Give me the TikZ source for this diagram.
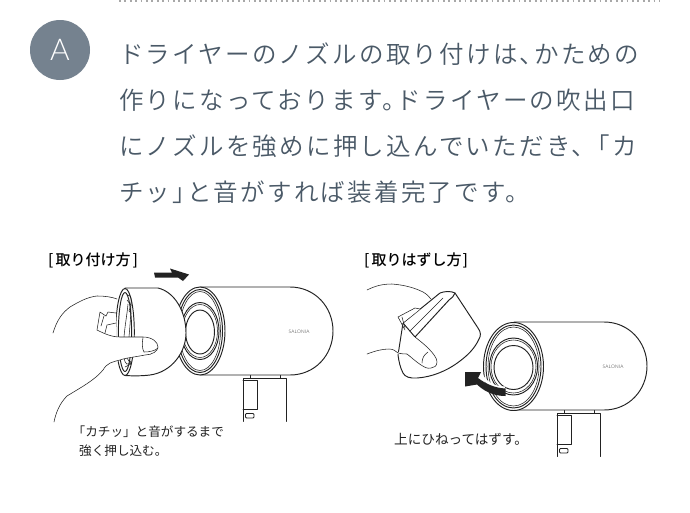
\documentclass[tikz,border=0pt]{standalone}
\usepackage{fontspec}
\setmainfont{Lato Light}
\newfontfamily\jpbody[LetterSpace=9.2]{Noto Sans CJK JP DemiLight}
\newfontfamily\jpsmall{Noto Sans CJK JP}
\newfontfamily\jpmed{Noto Sans CJK JP Medium}
\definecolor{slateink}{HTML}{4A5967}
\definecolor{badge}{HTML}{75828F}
\definecolor{dotgrey}{HTML}{A8A8A8}
\definecolor{lineink}{HTML}{222222}
\newcommand{\tightp}{\kern-10pt}
\tikzset{
  bodyline/.style={font=\fontsize{24.5}{24.5}\selectfont\jpbody,text=slateink,anchor=west,inner sep=0pt},
  caption/.style={font=\fontsize{12.6}{12.6}\selectfont\jpsmall,text=lineink,anchor=west,inner sep=0pt},
  headlabel/.style={font=\fontsize{15}{15}\selectfont\jpmed,text=black,anchor=west,inner sep=0pt},
  art/.style={draw=lineink,line width=0.95pt,line join=round,line cap=round},
  thinart/.style={draw=lineink,line width=0.55pt,line join=round,line cap=round},
  solidarrow/.style={fill=lineink,draw=none},
}
% #1 x shift, #2 y shift, #3 front radius, #4 ring centre x, #5 ring centre y
\newcommand{\drawdryer}[5]{%
\begin{scope}[shift={(#1,#2)}]
  \draw[art] (243,421.5) -- (243,378) -- (286,378) -- (286,421.5);
  \draw[art,fill=white] (250,378) -- (250,373.5) -- (280,373.5) -- (280,378);
  \draw[thinart] (243,380) -- (257,380) -- (257,409.5) -- (243,409.5);
  \draw[art,rounded corners=1pt] (245.5,413.5) rectangle (254,418);
  \draw[art,fill=white] (200,287) -- (290,287) .. controls (315,287) and (333,307) .. (333,331)
    .. controls (333,355) and (315,375) .. (290,375) -- (200,375) -- cycle;
  \node[font=\fontsize{4.8}{4.8}\selectfont\addfontfeature{LetterSpace=4},text=lineink,inner sep=0pt] (logo#1) at (299,332) {SALONIA};
\end{scope}
\draw[art,fill=white] (#4,#5) ellipse [x radius=#3,y radius=44];
\draw[art] (#4,#5) ellipse [x radius=#3-2.5,y radius=41.5];
\draw[thinart] (#4,#5) ellipse [x radius=#3-4.5,y radius=39.5];
\draw[art] (#4,#5) ellipse [x radius=#3-6,y radius=28.5];
\draw[thinart] (#4,#5) ellipse [x radius=#3-7.5,y radius=26.5];
\draw[art] (#4,#5+1) ellipse [x radius=#3-10.5,y radius=22];
}
\begin{document}
\begin{tikzpicture}[x=1pt,y=-1pt]
\useasboundingbox (0,0) rectangle (690,512);
\fill[white] (0,0) rectangle (690,512);
% dotted rule
\coordinate (ruleA) at (119,1.2);
\coordinate (ruleB) at (660,1.2);
\draw[dotgrey,line width=1.8pt,dash pattern=on 1.8pt off 3.6pt] (ruleA) -- (ruleB);
% badge
\node[circle,fill=badge,minimum size=60pt,inner sep=0pt,text=white,font=\fontsize{30}{30}\selectfont] (badgeA) at (60,50) {A};
% body text
\node[bodyline] (l1) at (119,54) {ドライヤーのノズルの取り付けは、\tightp かための};
\node[bodyline] (l2) at (119,100) {作りになっております。\tightp ドライヤーの吹出口};
\node[bodyline] (l3) at (119,146) {にノズルを強めに押し込んでいただき、\tightp「カ};
\node[bodyline] (l4) at (119,192) {チッ」\tightp と音がすれば装着完了です。};
% labels
\node[headlabel] (h1) at (48,260) {[\kern2pt 取り付け方\kern2pt ]};
\node[headlabel] (h2) at (364,260.5) {[\kern2pt 取りはずし方\kern1pt ]};
\node[caption] (c1) at (72.5,431.5) {「カチッ」と音がするまで};
\node[caption] (c2) at (79,451) {強く押し込む。};
\node[caption,font=\fontsize{13.6}{13.6}\selectfont\jpsmall] (c3) at (394,439.5) {上にひねってはずす。};
% ---- left dryer
\drawdryer{0}{0}{25}{200}{331}
% nozzle
\draw[art,fill=white] (125,288) -- (158,288) .. controls (175,292) and (186,312) .. (186,333)
  .. controls (186,352) and (172,372) .. (150,375) .. controls (142,376) and (133,376) .. (125,375.5) -- cycle;
\draw[art,fill=white] (125,332) ellipse [x radius=9.3,y radius=43.5];
\draw[art] (125,332) ellipse [x radius=6.6,y radius=39.5];
\draw[thinart] (131,303) .. controls (132,297) and (130,295) .. (127,295);
\draw[thinart] (128,304) .. controls (127,315) and (125,325) .. (124,337);
\draw[thinart] (131,303) .. controls (131,315) and (130,325) .. (129,337);
\draw[thinart] (127,300) -- (131,305) -- (129,311) -- (131,313);
\draw[thinart] (124,358) .. controls (125,364) and (128,367) .. (131,361);
\draw[thinart] (127,358) -- (131,364) -- (125,367);
% left hand
\fill[white] (97,296) -- (116,299) -- (116,365) -- (60,400) -- (53,333) -- cycle;
\draw[thinart] (97,330) -- (100,312) -- (106,316) -- (108,312) -- (116,313);
\draw[thinart] (116,323) -- (107,325) -- (105,333);
\draw[thinart] (104,316) -- (101,326);
\draw[thinart] (53,333) .. controls (57,320) and (62,313) .. (70,307)
  .. controls (80,301) and (88,297) .. (97,296) .. controls (105,296) and (112,297) .. (117,299);
\fill[white] (97,331) .. controls (105,334) and (112,337) .. (120,337) -- (143,337)
  .. controls (152,337) and (158,342) .. (158,347) .. controls (158,351) and (152,355) .. (145,355)
  .. controls (135,357) and (125,358) .. (120,360) -- (103,370) -- cycle;
\draw[thinart] (97,330) .. controls (105,334) and (112,337) .. (120,337) -- (143,337)
  .. controls (152,337) and (158,342) .. (158,347) .. controls (158,351) and (152,355) .. (145,355)
  .. controls (135,357) and (125,358) .. (120,360) .. controls (112,362) and (107,363) .. (103,370)
  .. controls (95,380) and (80,388) .. (67,396) .. controls (60,403) and (56,412) .. (54,422);
\draw[thinart] (143,337.5) .. controls (142,343) and (142,349) .. (144,352)
  .. controls (149,352) and (155,351) .. (158,348);
% left arrow
\fill[solidarrow] (154,272.5) -- (172,272.5) -- (170,268.5) -- (189,274.5) -- (183,281) -- (178,277.5) -- (155,277.5) -- cycle;
% ---- right dryer
\drawdryer{314}{35}{30}{513.5}{366.5}
% right nozzle
\draw[art,fill=white] (455,293) -- (478,328) .. controls (481,332) and (481,336) .. (479,339)
  .. controls (475,348) and (468,355) .. (460,361) .. controls (447,371) and (432,377) .. (417,378)
  .. controls (410,378.5) and (405,377) .. (403,373) .. controls (400,367) and (399,362) .. (398,355)
  -- (403,323) -- (440,293) .. controls (445,291) and (451,291) .. (455,293) -- cycle;
\draw[art] (403,323) -- (415,337) -- (449,300) .. controls (452,298) and (454,296) .. (455,293);
\draw[thinart] (410,331) -- (443,298);
% right hand
\fill[white] (400,325) -- (398,317) -- (415,308) -- (420,309) -- cycle;
\draw[thinart] (405,330) -- (398,317) -- (415,308) -- (420,309);
\draw[thinart] (402,317) -- (405,328);
\draw[thinart] (367,290) .. controls (375,286) and (382,284) .. (392,284)
  .. controls (405,285) and (415,288) .. (423,292) .. controls (427,294) and (429,297) .. (431,299);
\fill[white] (367,354) -- (398,353) -- (415,337) -- (428,348) -- (437,362) -- (431,368) -- (421,365) -- (407,354) -- cycle;
\fill[white] (398,353) -- (415,337) -- (425,350) -- (410,358) -- cycle;
\draw[thinart] (367,354) .. controls (375,351) and (382,349) .. (389,349)
  .. controls (393,349) and (396,351) .. (398,353) .. controls (402,354) and (405,354) .. (407,354)
  .. controls (411,357) and (415,361) .. (421,365) .. controls (424,367) and (427,369) .. (431,368)
  .. controls (434,368) and (437,366) .. (437,362) .. controls (437,358) and (433,353) .. (428,348)
  .. controls (424,344) and (420,341) .. (415,337);
\draw[thinart] (428,352) .. controls (424,355) and (422,358) .. (422,363);
% right arrow
\draw[white,line width=3pt] (482,376) .. controls (487,384) and (495,388) .. (505,388);
\fill[solidarrow] (465,372) -- (481,372) -- (478,378) .. controls (486,384) and (495,388) .. (505.5,388.5)
  -- (505.5,396) .. controls (493,396) and (484,391) .. (477,384.5) -- (465,386.5) -- cycle;
\end{tikzpicture}
\end{document}
